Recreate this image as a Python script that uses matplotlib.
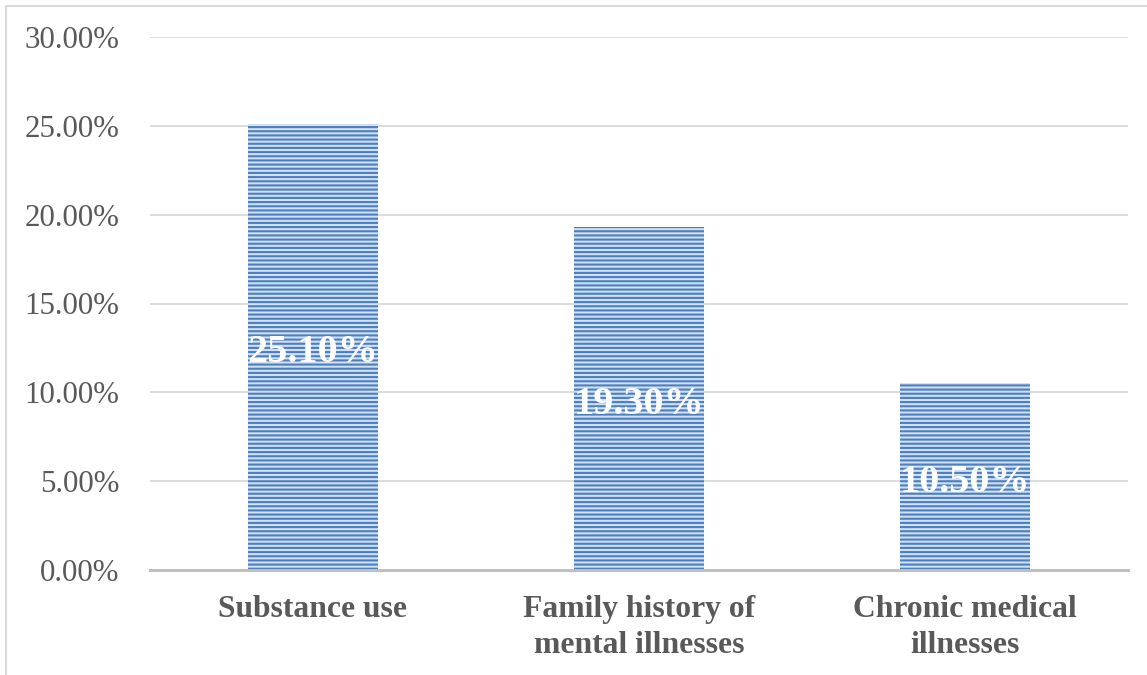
import matplotlib
matplotlib.use("Agg")
import matplotlib.pyplot as plt
from matplotlib.patches import Rectangle
from matplotlib.ticker import FuncFormatter, MultipleLocator

categories = ["Substance use", "Family history of\nmental illnesses", "Chronic medical\nillnesses"]
values = [25.10, 19.30, 10.50]
labels = ["25.10%", "19.30%", "10.50%"]

plt.rcParams['font.family'] = ['Liberation Serif', 'DejaVu Serif']
plt.rcParams['hatch.linewidth'] = 1.5
plt.rcParams['hatch.color'] = '#4f81bd'

W, H = 1147, 675
fig = plt.figure(figsize=(W/100, H/100), dpi=100)
ax = fig.add_axes([150/W, 1-570/H, (1128-150)/W, (570-37)/H])

x = range(len(categories))
bars = ax.bar(x, values, width=0.40, color='#d3e0f1', edgecolor='#4a7fc1',
              hatch='----', linewidth=0, zorder=3)

for xi, v, lab in zip(x, values, labels):
    ax.annotate(lab, (xi, v/2), xytext=(0, -4), textcoords='offset points',
                ha='center', va='center', color='white',
                fontsize=29, fontweight='bold', zorder=5)

ax.set_xlim(-0.5, 2.5)
ax.set_ylim(0, 30)
ax.yaxis.set_major_locator(MultipleLocator(5))
ax.yaxis.set_major_formatter(FuncFormatter(lambda v, p: f"{v:.2f}%"))
ax.grid(axis='y', color='#d9d9d9', linewidth=1.3, zorder=0)
for s in ['top', 'right', 'left']:
    ax.spines[s].set_visible(False)
ax.spines['bottom'].set_color('#bfbfbf')
ax.spines['bottom'].set_linewidth(2.2)
ax.spines['bottom'].set_zorder(4)
ax.tick_params(axis='y', length=0, pad=22, labelsize=22.2, labelcolor='#595959')
ax.tick_params(axis='x', length=0, pad=18, labelsize=22.8, labelcolor='#595959')
ax.set_xticks(list(x))
ax.set_xticklabels(categories, fontweight='bold', linespacing=1.3, va='top')

fig.patches.append(Rectangle((6/W, -0.01), 1.5, 1-6/H+0.01, transform=fig.transFigure,
                             fill=False, edgecolor='#d9d9d9', linewidth=1.5))

fig.savefig("out.png", dpi=100, facecolor='white')
